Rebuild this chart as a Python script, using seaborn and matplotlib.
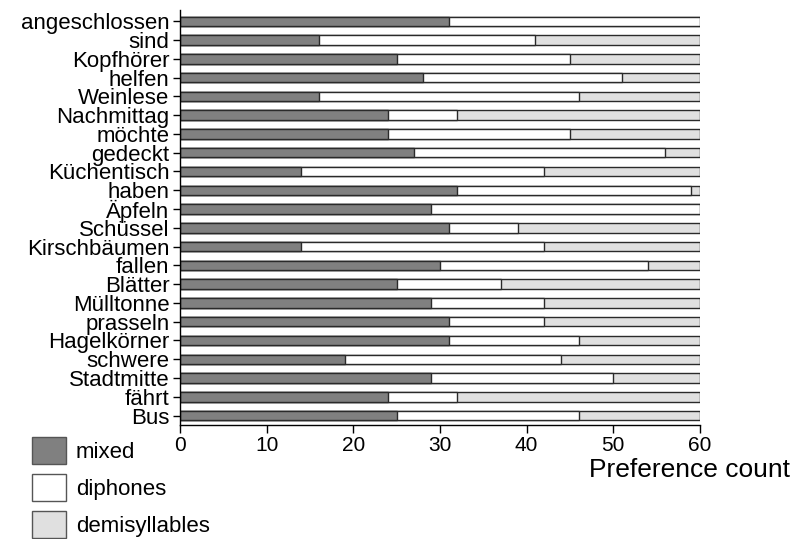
import matplotlib
matplotlib.use("Agg")
import matplotlib.pyplot as plt
import seaborn as sns
import pandas as pd
from matplotlib.patches import Patch

categories = ["angeschlossen", "sind", "Kopfhörer", "helfen", "Weinlese", "Nachmittag",
              "möchte", "gedeckt", "Küchentisch", "haben", "Äpfeln", "Schüssel",
              "Kirschbäumen", "fallen", "Blätter", "Mülltonne", "prasseln", "Hagelkörner",
              "schwere", "Stadtmitte", "fährt", "Bus"]
mixed = [31, 16, 25, 28, 16, 24, 24, 27, 14, 32, 29, 31, 14, 30, 25, 29, 31, 31, 19, 29, 24, 25]
diphones = [29, 25, 20, 23, 30, 8, 21, 29, 28, 27, 31, 8, 28, 24, 12, 13, 11, 15, 25, 21, 8, 21]
demisyllables = [60 - m - d for m, d in zip(mixed, diphones)]
series_names = ["mixed", "diphones", "demisyllables"]
colors = ["#808080", "#ffffff", "#e0e0e0"]

sns.set_style("ticks")
plt.rcParams['font.family'] = ['Liberation Sans', 'DejaVu Sans']
plt.rcParams['text.color'] = 'black'
plt.rcParams['xtick.color'] = 'black'
plt.rcParams['ytick.color'] = 'black'
plt.rcParams['xtick.labelcolor'] = 'black'
plt.rcParams['ytick.labelcolor'] = 'black'

df = pd.DataFrame({"cat": categories, "mixed": mixed, "diphones": diphones,
                   "demisyllables": demisyllables})
df["c1"] = df["mixed"]
df["c2"] = df["mixed"] + df["diphones"]
df["c3"] = df["c2"] + df["demisyllables"]

fig = plt.figure(figsize=(7.93, 5.39), dpi=100)
ax = fig.add_axes([180 / 793, 1 - 425 / 539, 520 / 793, (425 - 10) / 539])

for col, color in zip(["c3", "c2", "c1"], [colors[2], colors[1], colors[0]]):
    sns.barplot(data=df, x=col, y="cat", order=categories, orient="h", color=color,
                edgecolor="#2a2a2a", linewidth=1.0, width=0.5, ax=ax, saturation=1)

ax.set_xlim(0, 60)
ax.set_ylim(21.5, -0.6)
ax.set_xticks([0, 10, 20, 30, 40, 50, 60])
ax.tick_params(axis="x", labelsize=15, length=6, width=1, direction="out", pad=2)
ax.tick_params(axis="y", labelsize=16, length=5, width=1, pad=2.5)
ax.set_xlabel("")
ax.set_ylabel("")
for s in ["top", "right"]:
    ax.spines[s].set_visible(False)
for s in ["left", "bottom"]:
    ax.spines[s].set_linewidth(1.0)
    ax.spines[s].set_color("black")

fig.text(790 / 793, 1 - 477 / 539, "Preference count", ha="right", va="baseline", fontsize=19)

handles = [Patch(facecolor=c, edgecolor="#555555", linewidth=1.0) for c in colors]
fig.legend(handles, series_names, loc="upper left", bbox_to_anchor=(32 / 793, 1 - 437 / 539),
           frameon=False, fontsize=16, handlelength=1.53, handleheight=1.5,
           labelspacing=0.45, handletextpad=0.45, borderaxespad=0, borderpad=0)

fig.savefig("out.png", dpi=100)
